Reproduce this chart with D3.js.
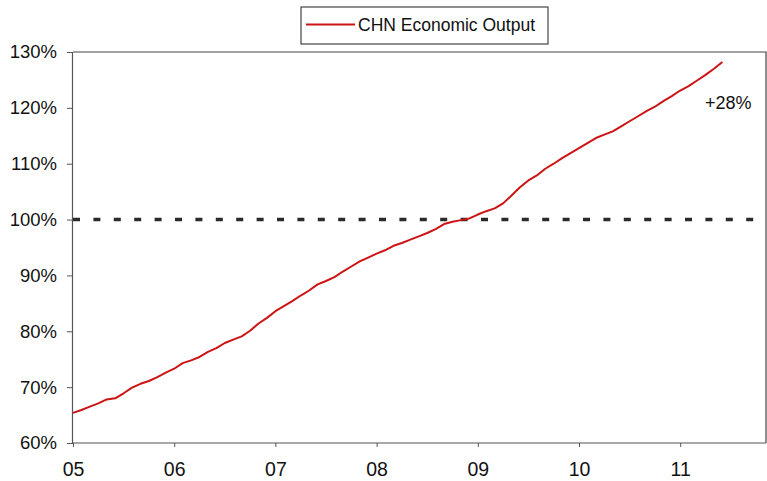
<!DOCTYPE html>
<html>
<head>
<meta charset="utf-8">
<script src="https://cdn.jsdelivr.net/npm/d3@7/dist/d3.min.js"></script>
<style>
  html, body { margin: 0; padding: 0; background: #fff; }
  svg { display: block; }
  text { font-family: "Liberation Sans", Arial, sans-serif; fill: #111; }
</style>
</head>
<body>
<svg id="chart" width="767" height="481"></svg>
<script>
// Series: monthly index level (% of reference level), Jan 2005 onward
const seriesName = "CHN Economic Output";
const months = [
  "2005-01","2005-02","2005-03","2005-04","2005-05","2005-06","2005-07","2005-08","2005-09","2005-10","2005-11","2005-12",
  "2006-01","2006-02","2006-03","2006-04","2006-05","2006-06","2006-07","2006-08","2006-09","2006-10","2006-11","2006-12",
  "2007-01","2007-02","2007-03","2007-04","2007-05","2007-06","2007-07","2007-08","2007-09","2007-10","2007-11","2007-12",
  "2008-01","2008-02","2008-03","2008-04","2008-05","2008-06","2008-07","2008-08","2008-09","2008-10","2008-11","2008-12",
  "2009-01","2009-02","2009-03","2009-04","2009-05","2009-06","2009-07","2009-08","2009-09","2009-10","2009-11","2009-12",
  "2010-01","2010-02","2010-03","2010-04","2010-05","2010-06","2010-07","2010-08","2010-09","2010-10","2010-11","2010-12",
  "2011-01","2011-02","2011-03","2011-04","2011-05","2011-06"
];
const output = [
  65.4, 65.9, 66.5, 67.1, 67.8, 68.0, 68.9, 69.9, 70.6, 71.1, 71.8, 72.6,
  73.3, 74.3, 74.8, 75.4, 76.3, 77.0, 77.9, 78.5, 79.1, 80.1, 81.4, 82.4,
  83.6, 84.5, 85.4, 86.4, 87.3, 88.4, 89.0, 89.7, 90.7, 91.6, 92.5, 93.2,
  93.9, 94.5, 95.3, 95.8, 96.4, 97.0, 97.6, 98.3, 99.2, 99.6, 99.9, 100.2,
  100.9, 101.5, 102.0, 102.9, 104.3, 105.8, 107.0, 107.9, 109.1, 110.0, 111.0, 111.9,
  112.8, 113.7, 114.6, 115.2, 115.8, 116.7, 117.6, 118.5, 119.4, 120.2, 121.2, 122.1,
  123.1, 123.9, 124.9, 125.9, 127.0, 128.2
];
const baseline = 100;
const changeLabel = "+28%";
const yTicks = [60, 70, 80, 90, 100, 110, 120, 130];
const yTickLabels = ["60%","70%","80%","90%","100%","110%","120%","130%"];
const xTicks = [2005, 2006, 2007, 2008, 2009, 2010, 2011];
const xTickLabels = ["05","06","07","08","09","10","11"];

// Layout
const plotLeft = 73, plotTop = 52, plotBottom = 443, plotRight = 766;
const yearWidth = 101.2;

const svg = d3.select("#chart");

const x = d3.scaleLinear().domain([2005, 2012]).range([plotLeft, plotLeft + 7 * yearWidth]);
const y = d3.scaleLinear().domain([60, 130]).range([plotBottom, plotTop]);

const toYear = s => { const [yy, mm] = s.split("-").map(Number); return yy + (mm - 1) / 12; };
const data = months.map((m, i) => ({ t: toYear(m), v: output[i] }));

// Plot frame: top and right edges
svg.append("path")
  .attr("d", `M${plotLeft},${plotTop}H${plotRight}V${plotBottom}`)
  .attr("fill", "none").attr("stroke", "#444").attr("stroke-width", 1.2);

// Left axis
const yAxis = svg.append("g").attr("transform", `translate(${plotLeft - 1},0)`)
  .call(d3.axisLeft(y).tickValues(yTicks).tickSize(5).tickPadding(10)
    .tickFormat((d, i) => yTickLabels[i]));
yAxis.select(".domain").attr("stroke", "#555").attr("stroke-width", 1.2);
yAxis.selectAll(".tick line").attr("stroke", "#555");
yAxis.selectAll(".tick text").attr("font-size", 18.5).attr("font-family", "Liberation Sans, Arial, sans-serif").attr("fill", "#111");

// Bottom axis
const xAxis = svg.append("g").attr("transform", `translate(0,${plotBottom})`)
  .call(d3.axisBottom(x).tickValues(xTicks).tickSize(4).tickPadding(15)
    .tickFormat((d, i) => xTickLabels[i]));
xAxis.select(".domain").attr("d", `M${plotLeft - 1},0H${plotRight}`).attr("stroke", "#555").attr("stroke-width", 1.2);
xAxis.selectAll(".tick line").attr("stroke", "#555");
xAxis.selectAll(".tick text").attr("font-size", 19.5).attr("font-family", "Liberation Sans, Arial, sans-serif").attr("fill", "#111");

// 100% reference line
svg.append("line")
  .attr("x1", plotLeft).attr("x2", plotRight)
  .attr("y1", y(baseline)).attr("y2", y(baseline))
  .attr("stroke", "#2a2a2a").attr("stroke-width", 3.5)
  .attr("stroke-dasharray", "7,13.4");

// Output series
svg.append("path")
  .datum(data)
  .attr("fill", "none")
  .attr("stroke", "#cc1414")
  .attr("stroke-width", 2)
  .attr("stroke-linejoin", "round")
  .attr("d", d3.line().x(d => x(d.t)).y(d => y(d.v)));

// Change annotation
svg.append("text")
  .attr("x", 705).attr("y", 103).attr("dy", "0.35em")
  .attr("font-size", 18)
  .text(changeLabel);

// Legend
const legend = svg.append("g");
legend.append("rect")
  .attr("x", 301).attr("y", 7).attr("width", 247).attr("height", 37)
  .attr("fill", "#fff").attr("stroke", "#444").attr("stroke-width", 1.2);
legend.append("line")
  .attr("x1", 306).attr("x2", 355).attr("y1", 24.5).attr("y2", 24.5)
  .attr("stroke", "#cc1414").attr("stroke-width", 2);
legend.append("text")
  .attr("x", 358).attr("y", 24.5).attr("dy", "0.35em")
  .attr("font-size", 17.5)
  .text(seriesName);
</script>
</body>
</html>
